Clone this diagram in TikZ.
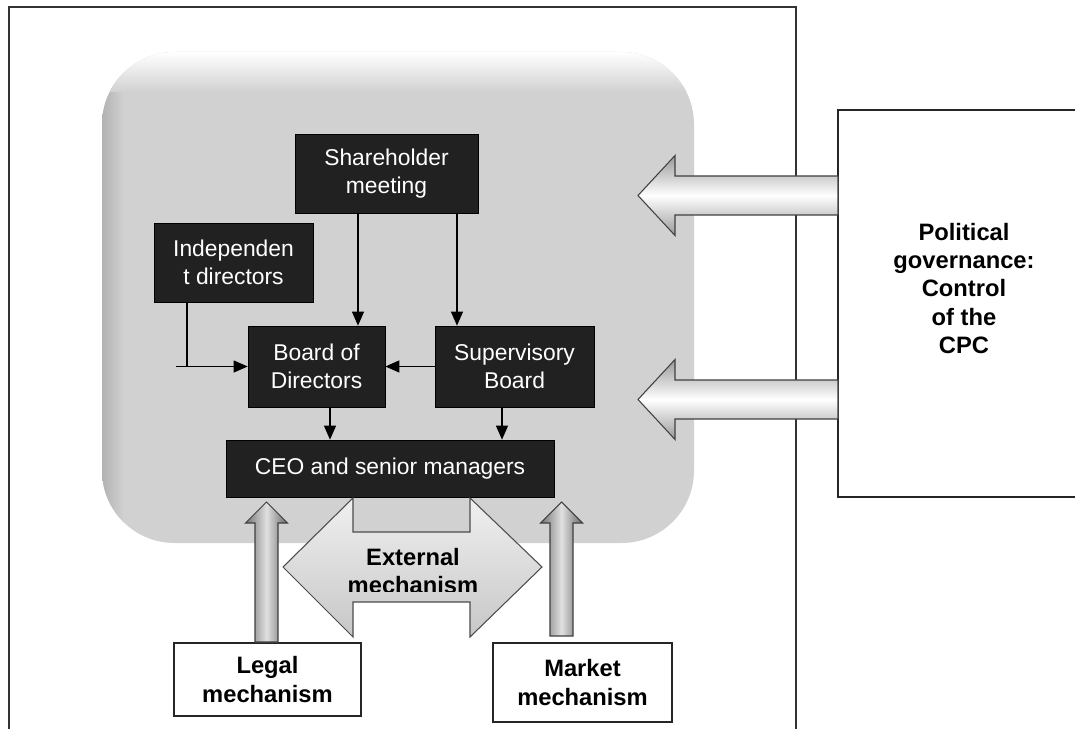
\documentclass[tikz,border=0pt]{standalone}
\usepackage{fontspec}
\setmainfont{Liberation Sans}
\usetikzlibrary{positioning,arrows.meta,calc}

\begin{document}
\begin{tikzpicture}[
x=0.02cm, y=-0.02cm,
darkbox/.style={
  draw=black,
  fill=black!87,
  text=white,
  align=center,
  inner sep=0pt,
  font=\fontsize{13}{16}\selectfont
  },
mechbox/.style={
  draw=black!85,
  line width=0.85pt,
  fill=white,
  align=center,
  inner sep=0pt,
  font=\fontsize{13.5}{16}\selectfont\bfseries
  },
link/.style={->, line width=0.6pt},
blockarrow/.style={
  draw=black!75,
  line width=0.6pt,
  top color=black!40,
  bottom color=black!40,
  middle color=white
  },
uparrow/.style={
  draw=black!75,
  line width=0.6pt,
  left color=black!55,
  right color=black!60,
  middle color=black!12
  },
>={Triangle[length=2.8mm,width=2.4mm]}
]
\useasboundingbox (0,0) rectangle (1075,729);
\clip (0,0) rectangle (1075,729);
\fill[white] (0,0) rectangle (1075,729);

% outer frame
\draw[line width=0.9pt, black!80] (9,729) -- (9,7) -- (796,7) -- (796,729);

% grey company block
\fill[black!18, rounded corners=1.45cm] (102,52) rectangle (694,543);
\begin{scope}
\clip[rounded corners=1.45cm] (102,52) rectangle (694,543);
\shade[left color=black!30, right color=black!18] (102,52) rectangle (124,543);
\shade[top color=white, bottom color=black!18] (102,52) rectangle (694,92);
\end{scope}

% internal governance
\node[darkbox, minimum width=3.66cm, minimum height=1.58cm] (share) at (386.5,173.5) {Shareholder\\meeting};
\node[darkbox, minimum width=3.18cm, minimum height=1.58cm] (indep) at (233.5,262.5) {Independen\\t directors};
\node[darkbox, minimum width=2.74cm, minimum height=1.62cm] (board) at (316.5,366.5) {Board of\\Directors};
\node[darkbox, minimum width=3.18cm, minimum height=1.62cm] (superv) at (514.5,366.5) {Supervisory\\Board};
\node[darkbox, minimum width=6.56cm, minimum height=1.14cm] (ceo) at (390,468.5) {CEO and senior managers};

\draw[link] ([xshift=-0.57cm]share.south) -- ([xshift=-0.57cm]share.south |- board.north);
\draw[link] ([xshift=1.41cm]share.south) -- ([xshift=1.41cm]share.south |- superv.north);
\draw[link] (superv.west) -- (board.east);
\draw[link] ([xshift=-0.93cm]indep.south) |- (board.west);
\coordinate (stub) at ([xshift=-1.44cm]board.west);
\draw[line width=0.6pt] (stub) -- ([xshift=-0.93cm]indep.south |- board.west);
\draw[link] ([xshift=0.27cm]board.south) -- ([xshift=0.27cm]board.south |- ceo.north);
\draw[link] ([xshift=-0.25cm]superv.south) -- ([xshift=-0.25cm]superv.south |- ceo.north);

% political governance
\node[mechbox, minimum width=5.04cm, minimum height=7.74cm] (polit) at (964,303.5) {};
\node[font=\fontsize{13.5}{16}\selectfont\bfseries, align=center] (poltext) at ([yshift=0.3cm]polit.center) {Political\\governance:\\Control\\of the\\CPC};
\foreach \yc in {195.5,399.5}
  \draw[blockarrow] (838,\yc-19.5) -- (675,\yc-19.5) -- (675,\yc-40) -- (638,\yc)
    -- (675,\yc+40) -- (675,\yc+19.5) -- (838,\yc+19.5) -- cycle;

% external mechanisms
\node[mechbox, minimum width=3.74cm, minimum height=1.46cm] (legal) at (267.5,679.5) {Legal\\mechanism};
\node[mechbox, minimum width=3.58cm, minimum height=1.58cm] (market) at (582.5,682.5) {Market\\mechanism};
\foreach \xc/\yb in {266.5/642,561.5/636}
  \draw[uparrow] (\xc-11.5,\yb) -- (\xc-11.5,523) -- (\xc-21,523) -- (\xc,502)
    -- (\xc+21,523) -- (\xc+11.5,523) -- (\xc+11.5,\yb) -- cycle;

\draw[draw=black!70, line width=0.6pt, top color=black!6, bottom color=black!22]
  (283,567) -- (353,498) -- (353,532) -- (470,532) -- (470,498) -- (542,567)
  -- (470,637) -- (470,602) -- (353,602) -- (353,637) -- cycle;
\begin{scope}
\clip (283,498) rectangle (542,591);
\node[font=\fontsize{13.5}{16}\selectfont\bfseries, align=center] (ext) at (413,571) {External\\mechanism};
\end{scope}
\end{tikzpicture}
\end{document}
